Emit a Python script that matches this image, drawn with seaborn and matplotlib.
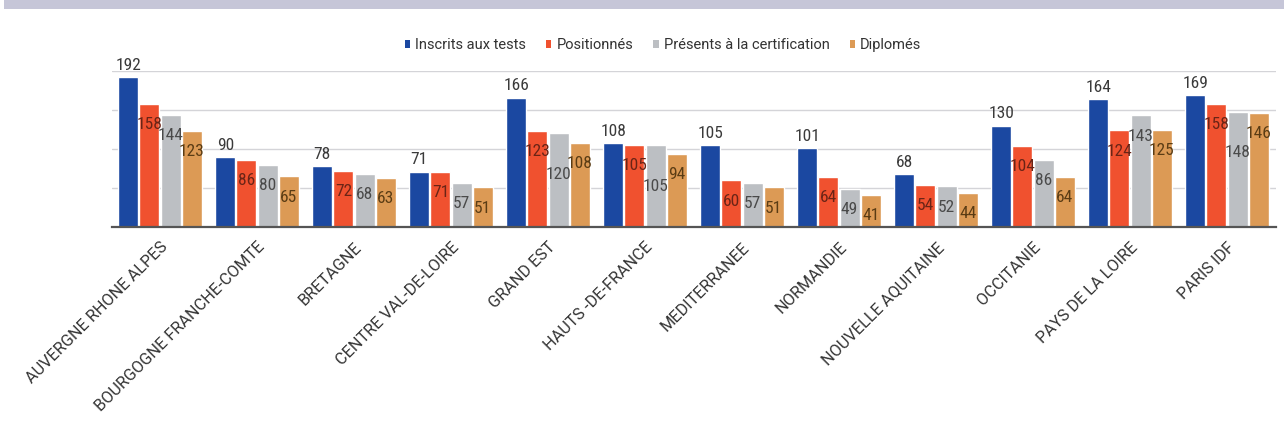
import matplotlib
matplotlib.use("Agg")
import matplotlib.pyplot as plt
from matplotlib import font_manager
from matplotlib.patches import Patch, Rectangle
import seaborn as sns
import pandas as pd

regions = ["AUVERGNE RHONE ALPES", "BOURGOGNE FRANCHE-COMTE", "BRETAGNE",
           "CENTRE VAL-DE-LOIRE", "GRAND EST", "HAUTS -DE-FRANCE", "MEDITERRANEE",
           "NORMANDIE", "NOUVELLE AQUITAINE", "OCCITANIE", "PAYS DE LA LOIRE", "PARIS IDF"]
series = ["Inscrits aux tests", "Positionnés", "Présents à la certification", "Diplomés"]
inscrits = [192, 90, 78, 71, 166, 108, 105, 101, 68, 130, 164, 169]
positionnes = [158, 86, 72, 71, 123, 105, 60, 64, 54, 104, 124, 158]
presents = [144, 80, 68, 57, 120, 105, 57, 49, 52, 86, 143, 148]
diplomes = [123, 65, 63, 51, 108, 94, 51, 41, 44, 64, 125, 146]

colors = ["#1b48a1", "#f0512f", "#bcbfc3", "#dc9a55"]
label_colors = ["#3a3a3a", "#6a2416", "#4a4a4a", "#5a3c14"]

sns.set_theme(style="white")
names = {f.name for f in font_manager.fontManager.ttflist}
cond = "Roboto Condensed" if "Roboto Condensed" in names else "DejaVu Sans"
base = "Roboto" if "Roboto" in names else "DejaVu Sans"
plt.rcParams["font.family"] = [base, "DejaVu Sans"]

rows = []
for s, vals in zip(series, [inscrits, positionnes, presents, diplomes]):
    for r, v in zip(regions, vals):
        rows.append({"region": r, "serie": s, "valeur": v})
df = pd.DataFrame(rows)

fig = plt.figure(figsize=(12.84, 4.32), dpi=100)
fig.patch.set_facecolor("white")
fig.patches.append(Rectangle((0.003, 1 - 9 / 432), 0.997, 9 / 432, transform=fig.transFigure,
                             facecolor="#c6c6d8", edgecolor="none", zorder=0))
ax = fig.add_axes([111.5 / 1284, 1 - 227 / 432, 1164 / 1284, 156 / 432])

sns.barplot(data=df, x="region", y="valeur", hue="serie", hue_order=series,
            palette=colors, width=0.87, gap=0.05, saturation=1, ax=ax,
            legend=False, errorbar=None, zorder=2)

ax.set_ylim(0, 200)
ax.set_xlim(-0.5, len(regions) - 0.5)
ax.set_yticks([50, 100, 150, 200])
ax.yaxis.grid(True, color="#d4d4d8", linewidth=1.0)
ax.set_axisbelow(True)
ax.tick_params(axis="y", left=False, labelleft=False)
ax.tick_params(axis="x", bottom=False, pad=3)
for sp in ["top", "right", "left"]:
    ax.spines[sp].set_visible(False)
ax.spines["bottom"].set_color("#555555")
ax.spines["bottom"].set_linewidth(1.6)
ax.set_xlabel("")
ax.set_ylabel("")
ax.set_xticks(range(len(regions)))
ax.set_xticklabels(regions, rotation=45, ha="right", rotation_mode="anchor",
                   fontsize=11.7, color="#333333")

inner = [positionnes, presents, diplomes]
for i, cont in enumerate(ax.containers):
    if i == 0:
        ax.bar_label(cont, labels=[str(v) for v in inscrits], padding=3,
                     fontsize=12.5, color=label_colors[0], family=[cond, "DejaVu Sans"])
    else:
        vals = inner[i - 1]
        txts = ax.bar_label(cont, labels=[str(v) for v in vals], padding=-15,
                            fontsize=12.5, color=label_colors[i], family=[cond, "DejaVu Sans"])
        for j, t in enumerate(txts):
            t.set_va("center")
            if i == 2 and vals[j] >= 100:
                # push the middle label down when it would collide with a neighbour label
                nb = [positionnes[j], diplomes[j]]
                if any(n >= 100 and abs(n - vals[j]) < 13 for n in nb):
                    t.xyann = (0, -29.5)

handles = [Patch(facecolor=c, edgecolor="none") for c in colors]
fig.legend(handles, series, loc="center", bbox_to_anchor=(663 / 1284, 1 - 45 / 432),
           ncol=4, frameon=False, fontsize=10.5, handlelength=0.35, handleheight=0.5,
           handletextpad=0.35, columnspacing=1.4, labelcolor="#333333")

fig.savefig("out.png", dpi=100, facecolor="white")
